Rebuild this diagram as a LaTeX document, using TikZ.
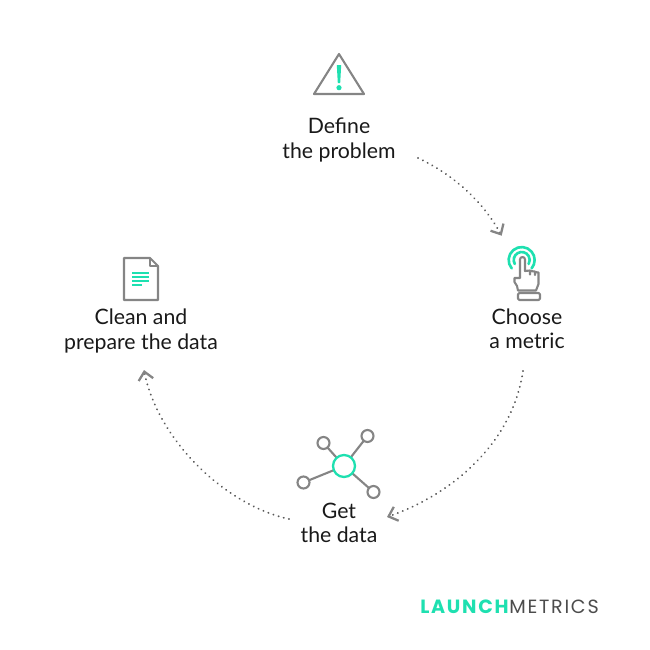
\documentclass[tikz,border=0pt]{standalone}
\usepackage{fontspec}
\setmainfont{Lato}
\newfontfamily\logofont[LetterSpace=9]{Poppins}
\usetikzlibrary{positioning}
\usetikzlibrary{arrows.meta}
\definecolor{mint}{HTML}{1EE0B0}
\definecolor{icongray}{HTML}{858585}
\tikzset{
    steplabel/.style={align=center, font=\fontsize{12.1}{13.7}\selectfont, text=black!90},
    flowline/.style={draw=black!65, line width=1.15pt, dash pattern=on 0.05pt off 3pt, line cap=round,
        -{Straight Barb[length=4.6pt, width=8.4pt, line width=1.3pt, color=icongray]}},
    iconline/.style={draw=icongray, line width=1.2pt, line join=round},
    accentline/.style={draw=mint, line width=1.1pt, line cap=round}
}
\begin{document}
\begin{tikzpicture}[x=0.02cm, y=-0.02cm]
    \useasboundingbox (0, 0) rectangle (650, 650);

    % Labels
    \node[steplabel] (define) at (339, 140) {Define\\the problem};
    \node[steplabel] (choose) at (527, 329) {Choose\\a metric};
    \node[steplabel] (getdata) at (339, 523) {Get\\the data};
    \node[steplabel] (clean) at (141, 331) {Clean and\\prepare the data};

    % Cycle arrows
    \coordinate (a1s) at (418, 158);
    \coordinate (a1e) at (501.7, 235.7);
    \coordinate (a2s) at (523, 371);
    \coordinate (a2e) at (387, 517);
    \coordinate (a3s) at (289, 519);
    \coordinate (a3e) at (144, 370);
    \draw[flowline] (a1s) .. controls (452, 174) and (482, 200) .. (a1e);
    \draw[flowline] (a2s) .. controls (512, 445) and (450, 495) .. (a2e);
    \draw[flowline] (a3s) .. controls (225, 505) and (158, 440) .. (a3e);

    % Warning icon
    \coordinate (tri1) at (339, 54);
    \coordinate (tri2) at (314, 94);
    \coordinate (tri3) at (364, 94);
    \draw[iconline] (tri1) -- (tri2) -- (tri3) -- cycle;
    \fill[mint] (336.8, 65) -- (341.2, 65) -- (340.2, 83) -- (337.8, 83) -- cycle;
    \fill[mint] (339, 87.7) circle (2.6);

    % Touch icon
    \draw[accentline, line width=1.5pt] (511.7, 268.4) arc (140:400:13);
    \draw[accentline, line width=1.5pt] (514.8, 264) arc (150:390:8);
    \draw[iconline, fill=white] (520, 278) -- (520, 259.5) arc (180:360:2.5) -- (525, 271)
        -- (530, 270.5) -- (530, 274.5) -- (530, 271) -- (535, 271.5) -- (535, 275)
        -- (535, 272) -- (538.5, 272.5) -- (538.5, 284) -- (536, 290.5) -- (518, 290.5)
        -- (517, 286) -- (514.5, 282) -- (514.5, 278) -- cycle;
    \draw[iconline, rounded corners=0.8pt] (518, 293) rectangle (540, 300);

    % Network icon
    \coordinate (hub) at (344, 466);
    \draw[iconline] (hub) -- (323.5, 443);
    \draw[iconline] (hub) -- (367.5, 436);
    \draw[iconline] (hub) -- (303.5, 482.5);
    \draw[iconline] (hub) -- (373.5, 492);
    \draw[iconline, fill=white] (323.5, 443) circle (6);
    \draw[iconline, fill=white] (367.5, 436) circle (6);
    \draw[iconline, fill=white] (303.5, 482.5) circle (6);
    \draw[iconline, fill=white] (373.5, 492) circle (6);
    \draw[accentline, line width=1.3pt, fill=white] (hub) circle (11);

    % Document icon
    \draw[iconline] (124, 258) -- (150, 258) -- (158, 266) -- (158, 300) -- (124, 300) -- cycle;
    \draw[iconline] (150, 258) -- (150, 266) -- (158, 266);
    \foreach \y/\w in {273/149, 277/149, 281/149, 285/142} {
        \draw[accentline, line width=0.9pt, line cap=butt] (132, \y) -- (\w, \y);
    }

    % Logo
    \node[font=\logofont\fontsize{10.9}{12}\selectfont\bfseries, text=mint, anchor=east, inner sep=0pt] (launch) at (509, 607) {LAUNCH};
    \node[font=\logofont\fontsize{10.9}{12}\selectfont, text=black!70, anchor=west, inner sep=0pt] (metrics) at (launch.east) {METRICS};
\end{tikzpicture}
\end{document}
